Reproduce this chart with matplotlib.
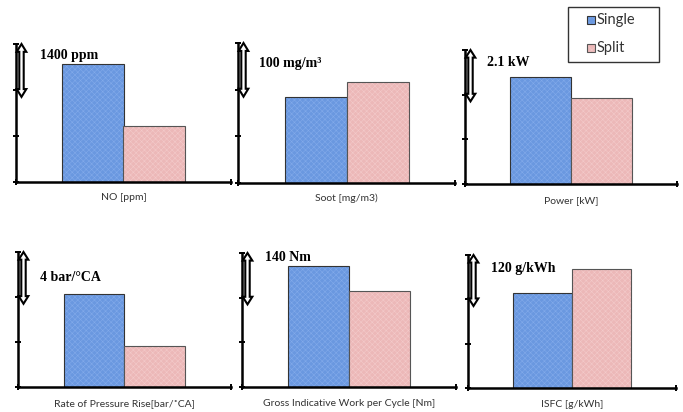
import matplotlib
matplotlib.use("Agg")
import matplotlib.pyplot as plt
from matplotlib.patches import Polygon, Rectangle

# ---- data (values in units of one y-tick interval; the arrow marks that interval) ----
series = ["Single", "Split"]
panel_labels = ["NO [ppm]", "Soot [mg/m3)", "Power [kW]",
                "Rate of Pressure Rise[bar/\u02daCA]",
                "Gross Indicative Work per Cycle [Nm]", "ISFC [g/kWh]"]
scale_labels = ["1400 ppm", "100 mg/m\u00b3", "2.1 kW", "4 bar/\u00b0CA", "140 Nm", "120 g/kWh"]
single_vals = [2.57, 1.84, 2.39, 2.07, 2.71, 2.14]
split_vals = [1.22, 2.16, 1.92, 0.91, 2.15, 2.69]
y_ticks = [0, 1, 2, 3]

# ---- layout (pixel boxes: left, right, top, bottom) ----
W, H = 683, 412
boxes = [(16, 231, 44, 182), (238, 455, 43, 183), (465, 677, 50, 184),
         (18, 231, 252, 387), (242, 456, 253, 387), (468, 676, 255, 388)]
text_pos = [(0.112, 2.76), (0.098, 2.57), (0.104, 2.71),
            (0.104, 2.44), (0.108, 2.89), (0.11, 2.70)]
label_off = [-11, -11, -12, -12, -12, -12]

blue = "#6a98e0"
pink = "#ecb8b8"
colors = [blue, pink]
edges = ["#333333", "#555555"]
hatch_cols = ["#82aaea", "#f3caca"]

fig = plt.figure(figsize=(W / 100, H / 100), dpi=100)
fig.patch.set_facecolor("white")
plt.rcParams["hatch.linewidth"] = 0.4

for i, (l, r, t, b) in enumerate(boxes):
    ax = fig.add_axes([l / W, 1 - b / H, (r - l) / W, (b - t) / H])
    ax.set_xlim(-1.25, 2.25)
    ax.set_ylim(0, 3)
    for j, vals in enumerate([single_vals, split_vals]):
        bars = ax.bar([j], [vals[i]], width=1.0, color=colors[j], edgecolor=edges[j],
                      linewidth=0.8, hatch="xxxxxx", zorder=2)
        bars[0]._hatch_color = matplotlib.colors.to_rgba(hatch_cols[j])
    for s in ("top", "right"):
        ax.spines[s].set_visible(False)
    for s in ("left", "bottom"):
        ax.spines[s].set_linewidth(1.8)
        ax.spines[s].set_color("black")
    ax.set_yticks(y_ticks)
    ax.set_yticklabels([])
    ax.set_xticks([-1.25, 2.25])
    ax.set_xticklabels([])
    ax.tick_params(axis="both", direction="inout", length=5, width=1.4)
    ax.set_facecolor("none")

    # double-headed hollow arrow marking one tick interval
    pxw = (r - l)
    cx, hh, sh = 5.5 / pxw, 4.8 / pxw, 2.2 / pxw
    yt, yb, hl = 3.0, 1.85, 0.17
    pts = [(cx, yt), (cx + hh, yt - hl), (cx + sh, yt - hl), (cx + sh, yb + hl),
           (cx + hh, yb + hl), (cx, yb), (cx - hh, yb + hl), (cx - sh, yb + hl),
           (cx - sh, yt - hl), (cx - hh, yt - hl)]
    arr = Polygon(pts, closed=True, facecolor="white", edgecolor="black",
                  linewidth=1.5, transform=ax.get_yaxis_transform(), clip_on=False, zorder=5)
    ax.add_patch(arr)

    tx, ty = text_pos[i]
    ax.text(tx, ty, scale_labels[i], transform=ax.get_yaxis_transform(),
            family="Liberation Serif", fontweight="bold", fontsize=10,
            ha="left", va="center", zorder=6)

    ax.annotate(panel_labels[i], xy=(0.5, 0), xycoords=("data", "axes fraction"),
                xytext=(0, label_off[i]), textcoords="offset points",
                ha="center", va="center", fontsize=7.5, family="Lato", color="#333333")

# legend (drawn as a framed box with hatched swatches)
fig.add_artist(Rectangle((568 / W, 1 - 62 / H), 91 / W, 55 / H, transform=fig.transFigure,
                         facecolor="white", edgecolor="#333333", linewidth=1.0))
leg_y = [20, 48]
for j, name in enumerate(series):
    yc = leg_y[j]
    sw = Rectangle((587 / W, 1 - (yc + 4) / H), 8 / W, 8 / H, transform=fig.transFigure,
                   facecolor=colors[j], edgecolor=edges[j], linewidth=0.8, hatch="xxxx")
    sw._hatch_color = matplotlib.colors.to_rgba(hatch_cols[j])
    fig.add_artist(sw)
    fig.text(597 / W, 1 - yc / H, name, ha="left", va="center",
             family="Lato", fontsize=10.5, color="#333333")

fig.savefig("out.png", dpi=100, facecolor="white")
